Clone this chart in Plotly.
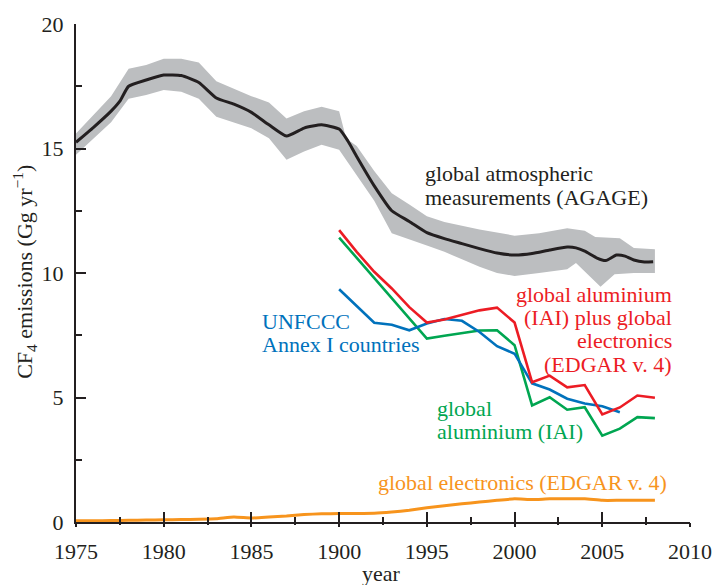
import plotly.graph_objects as go

# ---- data -------------------------------------------------------------
# global atmospheric measurements (AGAGE), central estimate
agage_year = [1975, 1976, 1977, 1977.5, 1978, 1979, 1980, 1981, 1982, 1983, 1984,
              1985, 1986, 1987, 1988, 1989, 1990, 1990.5, 1991, 1992, 1993, 1994,
              1995, 1996, 1997, 1998, 1999, 2000, 2001, 2002, 2003, 2003.5, 2004,
              2004.7, 2005.2, 2005.8, 2006.3, 2006.8, 2007.4, 2007.9]
agage_val = [15.25, 15.85, 16.5, 16.9, 17.5, 17.75, 17.95, 17.93, 17.65, 17.03, 16.78,
             16.45, 15.95, 15.5, 15.82, 15.95, 15.78, 15.3, 14.68, 13.5, 12.5, 12.07,
             11.62, 11.38, 11.18, 10.98, 10.8, 10.72, 10.78, 10.92, 11.04, 11.01, 10.88,
             10.6, 10.5, 10.72, 10.68, 10.52, 10.44, 10.45]

# AGAGE uncertainty envelope
band_upper_year = [1975, 1977, 1978, 1979, 1980, 1981, 1982, 1983, 1985, 1986, 1987,
                   1988, 1989, 1990, 1990.4, 1991, 1992, 1993, 1994, 1995, 1996,
                   1998, 2000, 2001.4, 2003, 2004, 2004.6, 2006, 2006.8, 2008]
band_upper = [15.6, 17.1, 18.2, 18.35, 18.6, 18.6, 18.45, 17.7, 17.1, 16.85, 16.2,
              16.5, 16.68, 16.5, 15.4, 15.1, 14.1, 13.2, 12.75, 12.28, 12.05,
              11.75, 11.5, 11.6, 11.8, 11.7, 11.45, 11.4, 11.0, 10.95]
band_lower_year = [1975, 1977, 1978, 1979, 1980, 1981, 1982, 1983, 1985, 1986, 1987,
                   1988, 1989, 1990, 1991, 1992, 1993, 1994, 1995, 1996, 1997, 1998,
                   1999, 2000, 2001.4, 2003, 2003.5, 2004.9, 2005.7, 2006.8, 2008]
band_lower = [14.75, 16.05, 17.0, 17.15, 17.35, 17.28, 17.0, 16.28, 15.81, 15.41, 14.55,
              14.88, 15.15, 14.95, 13.9, 12.9, 11.6, 11.35, 11.1, 10.85, 10.55, 10.25,
              10.0, 9.88, 10.0, 10.15, 10.4, 9.45, 9.95, 10.0, 10.0]

# UNFCCC Annex I countries
unfccc_year = [1990, 1992, 1993, 1994, 1995, 1996, 1997, 1998, 1999, 2000, 2001,
               2002, 2003, 2004, 2005, 2006]
unfccc_val = [9.35, 8.0, 7.92, 7.7, 7.97, 8.15, 8.08, 7.63, 7.06, 6.76, 5.57,
              5.32, 4.95, 4.76, 4.65, 4.41]

# global aluminium (IAI)
iai_year = [1990, 1995, 1996, 1997, 1998, 1999, 2000, 2001, 2002, 2003, 2004,
            2005, 2006, 2007, 2008]
iai_val = [11.42, 7.37, 7.48, 7.59, 7.69, 7.7, 7.1, 4.68, 5.01, 4.51, 4.61,
           3.47, 3.75, 4.21, 4.17]

# global aluminium (IAI) plus global electronics (EDGAR v. 4)
iai_edgar_year = [1990, 1991, 1992, 1993, 1994, 1995, 1996, 1997, 1998, 1999, 2000,
                  2001, 2002, 2003, 2004, 2005, 2006, 2007, 2008]
iai_edgar_val = [11.72, 10.85, 10.05, 9.38, 8.63, 8.01, 8.13, 8.33, 8.5, 8.61, 8.01,
                 5.61, 5.88, 5.41, 5.5, 4.32, 4.6, 5.08, 4.99]

# global electronics (EDGAR v. 4)
edgar_year = list(range(1975, 2009))
edgar_val = [0.05, 0.05, 0.06, 0.07, 0.08, 0.09, 0.1, 0.11, 0.13, 0.2, 0.16,
             0.2, 0.24, 0.3, 0.33, 0.34, 0.34, 0.35, 0.4, 0.47, 0.57, 0.65,
             0.73, 0.8, 0.87, 0.93, 0.9, 0.93, 0.93, 0.93, 0.87, 0.87, 0.87, 0.87]

# axis ticks
x_tick_vals = [1975, 1980, 1985, 1990, 1995, 2000, 2005, 2010]
x_tick_text = ["1975", "1980", "1985", "1900", "1995", "2000", "2005", "2010"]
x_minor_vals = [1977.5, 1982.5, 1987.5, 1992.5, 1997.5, 2002.5, 2007.5]
y_tick_vals = [0, 5, 10, 15, 20]

# ---- styling ------------------------------------------------------------
FONT = "Liberation Serif"
INK = "#231f20"
GREY = "#bcbec0"
RED = "#ec1c24"
GREEN = "#00a651"
BLUE = "#0072bc"
ORANGE = "#f7941d"
FS = 22

fig = go.Figure()

# uncertainty envelope drawn as a closed polygon
fig.add_trace(go.Scatter(
    x=band_upper_year + band_lower_year[::-1],
    y=band_upper + band_lower[::-1],
    fill="toself", fillcolor=GREY, line=dict(width=0),
    mode="lines", hoverinfo="skip", showlegend=False))

fig.add_trace(go.Scatter(x=agage_year, y=agage_val, mode="lines",
                         line=dict(color=INK, width=3, shape="spline", smoothing=0.5),
                         showlegend=False))
fig.add_trace(go.Scatter(x=iai_year, y=iai_val, mode="lines",
                         line=dict(color=GREEN, width=2.6), showlegend=False))
fig.add_trace(go.Scatter(x=unfccc_year, y=unfccc_val, mode="lines",
                         line=dict(color=BLUE, width=2.6), showlegend=False))
fig.add_trace(go.Scatter(x=iai_edgar_year, y=iai_edgar_val, mode="lines",
                         line=dict(color=RED, width=2.6), showlegend=False))
fig.add_trace(go.Scatter(x=edgar_year, y=edgar_val, mode="lines",
                         line=dict(color=ORANGE, width=3, shape="spline", smoothing=0.4),
                         xaxis="x2", showlegend=False))


def label(lines, x, y0, color, anchor, step=0.93):
    # one annotation per line so the leading can be set tighter than Plotly's default
    for i, t in enumerate(lines):
        fig.add_annotation(x=x, y=y0 - i * step, xref="x", yref="y", text=t,
                           showarrow=False, xanchor=anchor, yanchor="middle",
                           font=dict(family=FONT, size=FS, color=color))


label(["global atmospheric", "measurements (AGAGE)"], 1994.80, 13.98, INK, "left", 0.96)
label(["global aluminium", "(IAI) plus global", "electronics", "(EDGAR v. 4)"],
      2009.10, 9.13, RED, "right", 0.93)
label(["UNFCCC", "Annex I countries"], 1985.48, 8.04, BLUE, "left", 0.91)
label(["global", "aluminium (IAI)"], 1995.46, 4.56, GREEN, "left", 0.91)
label(["global electronics (EDGAR v. 4)"], 1992.12, 1.58, ORANGE, "left")

# axis titles
fig.add_annotation(xref="paper", yref="paper", x=-0.085, y=0.502,
                   text="CF<sub>4</sub> emissions (Gg yr<sup>\u22121</sup>)",
                   textangle=-90, showarrow=False, xanchor="center", yanchor="middle",
                   font=dict(family=FONT, size=FS, color=INK))
fig.add_annotation(xref="paper", yref="paper", x=0.4968, y=-0.104, text="year",
                   showarrow=False, xanchor="center", yanchor="middle",
                   font=dict(family=FONT, size=FS, color=INK))

axis_common = dict(showgrid=False, zeroline=False, tickcolor=INK, tickwidth=2,
                   tickfont=dict(family=FONT, size=FS, color=INK))

fig.update_layout(
    width=724, height=585,
    margin=dict(l=76, r=28, t=22, b=63),
    paper_bgcolor="white", plot_bgcolor="white",
    xaxis=dict(range=[1975, 2010], tickmode="array", tickvals=x_tick_vals,
               ticktext=x_tick_text, ticks="inside", ticklen=10,
               showline=True, linecolor=INK, linewidth=2, ticklabelstandoff=9,
               minor=dict(tickmode="array", tickvals=x_minor_vals, ticks="inside",
                          ticklen=5, tickcolor=INK, tickwidth=2),
               **axis_common),
    # overlaid twin of the year axis: the short stubs of the ticks below the line
    xaxis2=dict(range=[1975, 2010], overlaying="x", anchor="y", side="bottom",
                tickmode="array", tickvals=x_tick_vals, ticks="outside", ticklen=4,
                showticklabels=False, showline=False,
                minor=dict(tickmode="array", tickvals=x_minor_vals, ticks="outside",
                           ticklen=2, tickcolor=INK, tickwidth=2),
                **axis_common),
    yaxis=dict(range=[0, 20], tickmode="array", tickvals=y_tick_vals, ticks="inside",
               ticklen=10, showline=True, linecolor=INK, linewidth=2,
               ticklabelstandoff=6,
               minor=dict(dtick=2.5, tick0=0, ticks="inside", ticklen=6,
                          tickcolor=INK, tickwidth=2),
               **axis_common),
)

fig.write_html("out.html")
